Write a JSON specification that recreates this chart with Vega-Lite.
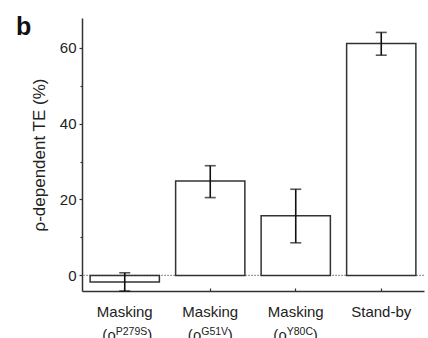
{
  "$schema": "https://vega.github.io/schema/vega-lite/v6.json",
  "autosize": {"type": "none"},
  "padding": {"left": 82, "top": 18, "right": 4, "bottom": 47},
  "width": 342,
  "height": 273,
  "background": "white",
  "title": {"text": "b", "anchor": "start", "frame": "group", "fontSize": 25, "fontWeight": "bold", "font": "Liberation Sans", "color": "#111", "baseline": "alphabetic", "offset": 0, "dx": -66, "dy": 42},
  "config": {
    "view": {"stroke": null},
    "font": "Liberation Sans"
  },
  "data": {"values": [
    {"cat": "P279S", "sup": "P279S", "value": -1.7, "lo": -4.1, "hi": 0.7},
    {"cat": "G51V", "sup": "G51V", "value": 24.9, "lo": 20.5, "hi": 28.9},
    {"cat": "Y80C", "sup": "Y80C", "value": 15.7, "lo": 8.6, "hi": 22.7},
    {"cat": "Stand-by", "sup": null, "value": 61.1, "lo": 58.0, "hi": 64.0}
  ]},
  "encoding": {
    "x": {"field": "cat", "type": "nominal", "sort": null,
      "scale": {"paddingInner": 0.19, "paddingOuter": 0.095},
      "axis": {"title": null, "labelAngle": 0, "labelFontSize": 15, "labelColor": "#222", "labelPadding": 16,
        "labelExpr": "datum.value == 'Stand-by' ? 'Stand-by' : 'Masking'",
        "domainColor": "#333", "domainWidth": 1.5, "tickColor": "#333", "tickWidth": 1.2, "tickSize": -3}}
  },
  "layer": [
    {
      "mark": {"type": "rule", "color": "#999", "strokeDash": [1.5, 1.5], "strokeWidth": 1},
      "encoding": {"x": null, "y": {"datum": 0}}
    },
    {
      "mark": {"type": "bar", "fill": "white", "stroke": "#333", "strokeWidth": 1.5},
      "encoding": {
        "y": {"field": "value", "type": "quantitative", "title": "ρ-dependent TE (%)",
          "scale": {"domain": [-4.1, 67.8], "nice": false, "zero": false},
          "axis": {"title": "ρ-dependent TE (%)", "titleFontSize": 17, "titleFontWeight": "normal", "titleColor": "#222", "titlePadding": 11,
            "values": [0, 10, 20, 30, 40, 50, 60], "grid": false,
            "labelExpr": "datum.value % 20 == 0 ? datum.label : ''",
            "labelFontSize": 15, "labelColor": "#222", "labelPadding": 3,
            "tickSize": {"condition": {"test": "datum.value % 20 == 0", "value": 3}, "value": 2},
            "tickColor": "#333", "tickWidth": 1.2, "domainColor": "#333", "domainWidth": 1.5}}
      }
    },
    {
      "mark": {"type": "errorbar", "ticks": {"size": 11, "color": "#111", "thickness": 1.6}, "rule": {"color": "#111", "strokeWidth": 1.6}},
      "encoding": {
        "y": {"field": "lo", "type": "quantitative", "title": "ρ-dependent TE (%)"},
        "y2": {"field": "hi"}
      }
    },
    {
      "transform": [{"filter": "datum.sup != null"}],
      "mark": {"type": "text", "text": "(ρ", "align": "right", "baseline": "alphabetic", "fontSize": 15, "color": "#222", "dx": -9, "dy": 49},
      "encoding": {"y": {"datum": -4.1}}
    },
    {
      "transform": [{"filter": "datum.sup != null"}],
      "mark": {"type": "text", "align": "left", "baseline": "alphabetic", "fontSize": 10.5, "color": "#222", "dx": -9, "dy": 43.5},
      "encoding": {"y": {"datum": -4.1}, "text": {"field": "sup"}}
    },
    {
      "transform": [{"filter": "datum.cat == 'P279S'"}],
      "mark": {"type": "text", "text": ")", "align": "left", "baseline": "alphabetic", "fontSize": 15, "color": "#222", "dx": 22.5, "dy": 49},
      "encoding": {"y": {"datum": -4.1}}
    },
    {
      "transform": [{"filter": "datum.cat == 'G51V'"}],
      "mark": {"type": "text", "text": ")", "align": "left", "baseline": "alphabetic", "fontSize": 15, "color": "#222", "dx": 17.5, "dy": 49},
      "encoding": {"y": {"datum": -4.1}}
    },
    {
      "transform": [{"filter": "datum.cat == 'Y80C'"}],
      "mark": {"type": "text", "text": ")", "align": "left", "baseline": "alphabetic", "fontSize": 15, "color": "#222", "dx": 17, "dy": 49},
      "encoding": {"y": {"datum": -4.1}}
    }
  ]
}
